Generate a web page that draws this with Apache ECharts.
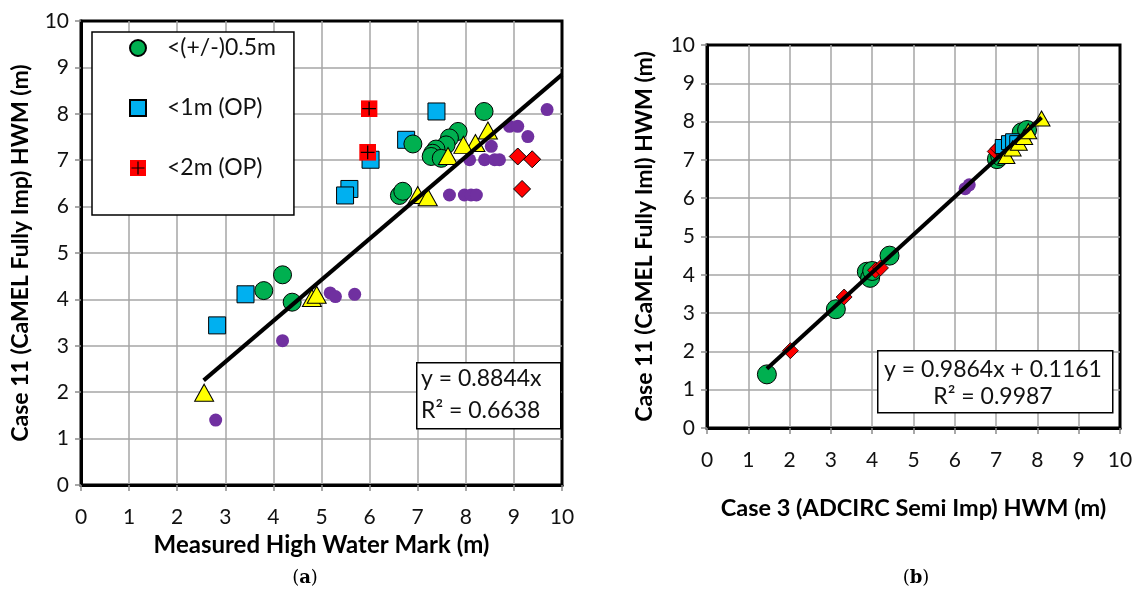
<!DOCTYPE html>
<html>
<head>
<meta charset="utf-8">
<script src="https://cdn.jsdelivr.net/npm/echarts@6/dist/echarts.min.js"></script>
<style>
  html, body { margin: 0; padding: 0; background: #ffffff; }
  #chart { width: 1137px; height: 594px; }
</style>
</head>
<body>
<div id="chart"></div>
<script>
// ---------- data ----------
const tickValues = [0, 1, 2, 3, 4, 5, 6, 7, 8, 9, 10];

// (a) measured HWM vs Case 11
const aWithinHalf = [[8.38, 8.05], [7.84, 7.62], [7.66, 7.48], [7.59, 7.33], [7.38, 7.24], [7.31, 7.15],
  [7.28, 7.08], [7.49, 7.04], [6.90, 7.35], [6.62, 6.24], [6.69, 6.33], [4.19, 4.53], [3.80, 4.19], [4.39, 3.94]];
const aWithin1m = [[7.39, 8.05], [6.76, 7.44], [6.02, 7.01], [5.58, 6.38], [5.49, 6.24], [3.42, 4.11], [2.83, 3.44]];
const aWithin2m = [[5.99, 8.11], [5.96, 7.17]];
const aYellow = [[8.46, 7.64], [8.20, 7.37], [7.95, 7.33], [7.63, 7.09], [7.00, 6.25], [7.21, 6.20],
  [4.80, 4.03], [4.90, 4.10], [2.56, 1.99]];
const aPurple = [[9.69, 8.09], [8.91, 7.73], [9.08, 7.73], [9.29, 7.51], [8.53, 7.30], [8.08, 7.01], [8.39, 7.01],
  [8.60, 7.01], [8.70, 7.01], [7.66, 6.25], [7.97, 6.25], [8.11, 6.25], [8.22, 6.25], [5.18, 4.14], [5.29, 4.06],
  [5.69, 4.11], [4.19, 3.11], [2.80, 1.40]];
const aDiamond = [[9.08, 7.08], [9.38, 7.02], [9.17, 6.38]];
const aSlope = 0.8844;
const aR2 = 0.6638;
const aFitRange = [2.55, 10];

// (b) Case 3 vs Case 11
const bGreen = [[1.45, 1.40], [3.12, 3.10], [3.87, 4.08], [3.95, 3.92], [4.00, 4.10], [4.42, 4.50],
  [7.02, 7.02], [7.10, 7.10], [7.62, 7.72], [7.75, 7.78]];
const bDiamond = [[2.02, 2.02], [3.32, 3.42], [4.08, 4.12], [4.20, 4.18], [6.98, 7.22], [7.05, 7.30], [7.20, 7.12]];
const bBlue = [[7.15, 7.35], [7.30, 7.45], [7.40, 7.50], [7.50, 7.45]];
const bYellow = [[7.25, 7.10], [7.40, 7.30], [7.55, 7.45], [7.68, 7.60], [7.78, 7.75], [8.10, 8.08]];
const bPurple = [[6.25, 6.25], [6.35, 6.35], [7.00, 7.00], [7.05, 6.95]];
const bSlope = 0.9864;
const bIntercept = 0.1161;
const bR2 = 0.9987;
const bFitRange = [1.45, 8.1];

// ---------- styling ----------
const FONT = 'Lato, "Open Sans", "DejaVu Sans", sans-serif';
const C_GREEN = '#00b050', C_BLUE = '#00b0f0', C_RED = '#ff0000', C_YELLOW = '#ffff00', C_PURPLE = '#7030a0';

// red square with a black plus, used for the <2m markers
const crossSvg = "<svg xmlns='http://www.w3.org/2000/svg' width='32' height='32'>" +
  "<rect x='0' y='0' width='32' height='32' fill='#ff0000'/>" +
  "<path d='M16 3V29M3 16H29' stroke='#000000' stroke-width='2.4'/></svg>";
const crossSymbol = 'image://data:image/svg+xml;charset=utf-8,' + encodeURIComponent(crossSvg);

function valueAxis(gridIndex, name, nameGap, nameSize, isY) {
  return {
    type: 'value', gridIndex: gridIndex, min: 0, max: 10, interval: 1,
    name: name, nameLocation: 'middle', nameGap: nameGap,
    nameTextStyle: { fontFamily: FONT, fontWeight: 'bold', fontSize: nameSize, color: '#000' },
    axisLine: { show: true, onZero: false, lineStyle: { color: '#000', width: 3 } },
    axisTick: { show: true, length: 6, lineStyle: { color: '#8c8c8c', width: 1.5 } },
    axisLabel: { fontFamily: FONT, fontSize: 21, color: '#111', margin: isY ? 12 : 22 },
    splitLine: { show: true, showMinLine: false, showMaxLine: false, lineStyle: { color: '#a6a6a6', width: 1.5 } }
  };
}

function scatter(name, data, xi, symbol, size, color, border, z) {
  return {
    type: 'scatter', name: name, data: data, xAxisIndex: xi, yAxisIndex: xi,
    symbol: symbol, symbolSize: size, z: z || 3,
    itemStyle: { color: color, borderColor: '#000', borderWidth: border, opacity: 1 },
    emphasis: { disabled: true }
  };
}

function fitLine(slope, intercept, range, xi) {
  return {
    type: 'line', xAxisIndex: xi, yAxisIndex: xi, z: 5, symbol: 'none',
    data: range.map(x => [x, slope * x + intercept]),
    lineStyle: { color: '#000', width: 4 }, silent: true
  };
}

const chart = echarts.init(document.getElementById('chart'), null, { renderer: 'canvas' });

const option = {
  animation: false,
  backgroundColor: '#ffffff',
  grid: [
    { left: 81, top: 21, width: 481, height: 464, show: true, borderColor: '#000', borderWidth: 3, backgroundColor: 'transparent' },
    { left: 707, top: 45, width: 413, height: 383, show: true, borderColor: '#000', borderWidth: 3, backgroundColor: 'transparent' }
  ],
  xAxis: [
    valueAxis(0, 'Measured High Water Mark (m)', 43, 24, false),
    valueAxis(1, 'Case 3 (ADCIRC Semi Imp) HWM (m)', 68, 23.5, false)
  ],
  yAxis: [
    valueAxis(0, 'Case 11 (CaMEL Fully Imp) HWM (m)', 49, 23, true),
    valueAxis(1, 'Case 11 (CaMEL Fully Iml) HWM (m)', 51, 23, true)
  ],
  legend: {
    data: ['<(+/-)0.5m', '<1m (OP)', '<2m (OP)'],
    orient: 'vertical', left: 92, top: 32,
    itemWidth: 16, itemHeight: 16, itemGap: 36,
    padding: [4, 18, 35, 37],
    backgroundColor: '#ffffff', borderColor: '#000', borderWidth: 1.5,
    textStyle: { fontFamily: FONT, fontSize: 23, color: '#111', lineHeight: 24, padding: [0, 0, 0, 16] },
    selectedMode: false
  },
  series: [
    scatter('others (a)', aPurple, 0, 'circle', 13, C_PURPLE, 0, 2),
    scatter('diamond (a)', aDiamond, 0, 'diamond', [17, 17], C_RED, 1, 3),
    scatter('<1m (OP)', aWithin1m, 0, 'rect', 17, C_BLUE, 1, 3),
    scatter('<2m (OP)', aWithin2m, 0, crossSymbol, 17, C_RED, 0, 3),
    scatter('<(+/-)0.5m', aWithinHalf, 0, 'circle', 18, C_GREEN, 1, 3),
    scatter('triangle (a)', aYellow, 0, 'triangle', [19, 17], C_YELLOW, 1, 4),
    fitLine(aSlope, 0, aFitRange, 0),

    scatter('others (b)', bPurple, 1, 'circle', 13, C_PURPLE, 0, 2),
    scatter('green (b)', bGreen, 1, 'circle', 19, C_GREEN, 1, 3),
    scatter('diamond (b)', bDiamond, 1, 'diamond', [16, 16], C_RED, 0.8, 3),
    scatter('blue (b)', bBlue, 1, 'rect', 14, C_BLUE, 1, 3),
    scatter('triangle (b)', bYellow, 1, 'triangle', [17, 15], C_YELLOW, 1, 4),
    fitLine(bSlope, bIntercept, bFitRange, 1)
  ],
  graphic: [
    // equation box, panel (a)
    { type: 'rect', left: 416, top: 362, shape: { width: 144, height: 66 }, z: 10,
      style: { fill: '#fff', stroke: '#000', lineWidth: 1.5 } },
    { type: 'text', left: 421, top: 367, z: 11,
      style: { text: 'y = ' + aSlope.toFixed(4) + 'x', font: '23px ' + FONT, fill: '#111' } },
    { type: 'text', left: 421, top: 399, z: 11,
      style: { text: 'R² = ' + aR2.toFixed(4), font: '23px ' + FONT, fill: '#111' } },
    // equation box, panel (b)
    { type: 'rect', left: 877, top: 350, shape: { width: 235, height: 62 }, z: 10,
      style: { fill: '#fff', stroke: '#000', lineWidth: 1.5 } },
    { type: 'text', x: 993, y: 370, z: 11,
      style: { text: 'y = ' + bSlope.toFixed(4) + 'x + ' + bIntercept.toFixed(4), font: '23px ' + FONT, fill: '#111',
        align: 'center', verticalAlign: 'middle' } },
    { type: 'text', x: 993, y: 397, z: 11,
      style: { text: 'R² = ' + bR2.toFixed(4), font: '23px ' + FONT, fill: '#111',
        align: 'center', verticalAlign: 'middle' } },
    // panel captions
    { type: 'text', x: 305, y: 578, z: 11,
      style: { text: '({b|a})', font: '18px "DejaVu Serif", serif', fill: '#000', align: 'center', verticalAlign: 'middle',
        rich: { b: { fontWeight: 'bold', fontFamily: '"DejaVu Serif", serif', fontSize: 18 } } } },
    { type: 'text', x: 916, y: 578, z: 11,
      style: { text: '({b|b})', font: '18px "DejaVu Serif", serif', fill: '#000', align: 'center', verticalAlign: 'middle',
        rich: { b: { fontWeight: 'bold', fontFamily: '"DejaVu Serif", serif', fontSize: 18 } } } }
  ]
};

chart.setOption(option);
</script>
</body>
</html>
